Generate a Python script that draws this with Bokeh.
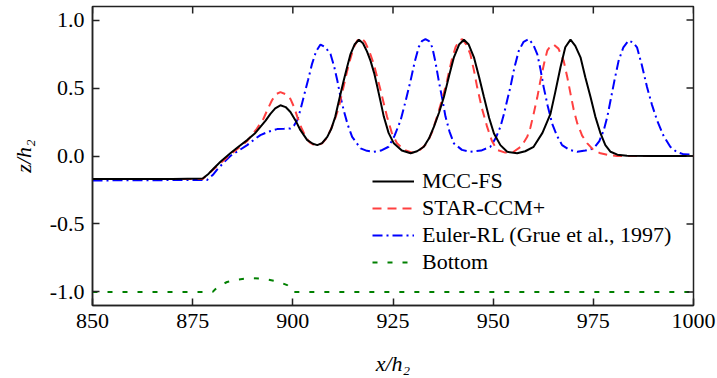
from bokeh.plotting import figure
from bokeh.models import (Range1d, FixedTicker, PrintfTickFormatter, Legend, LegendItem)
from bokeh.embed import file_html
from bokeh.resources import INLINE

# ---------------- data ----------------
mcc_x = [850, 870, 877.5, 879, 880.3, 882, 884.4, 886.5, 888.6, 890.5, 891.9, 893.2, 894.4, 895.6,
         896.9, 898.2, 899.4, 900.7, 901.9, 903.6, 905, 906.1, 907.3, 908.6, 909.6, 910.6, 911.6,
         912.7, 913.6, 914.4, 915.4, 916.5, 917.5, 918.5, 919.4, 920.3, 921.1, 921.9, 922.7, 923.9,
         925.2, 927.2, 929.4, 931, 932.7, 934, 935.2, 936.5, 937.7, 939, 940.2, 941.5, 942.7, 943.9,
         945.2, 946.5, 947.7, 949, 950.2, 951.8, 953.5, 956, 958, 960.1, 962.3, 964.3, 965.5, 966.8,
         968, 969.3, 970.5, 971.8, 973, 974.3, 975.5, 976.8, 978, 979.3, 981, 983.4, 990, 1000]
mcc_z = [-0.17, -0.17, -0.165, -0.13, -0.09, -0.04, 0.02, 0.07, 0.117, 0.165, 0.214, 0.26, 0.31, 0.35,
         0.373, 0.36, 0.324, 0.26, 0.19, 0.117, 0.09, 0.08, 0.095, 0.141, 0.2, 0.29, 0.42,
         0.556, 0.66, 0.75, 0.82, 0.855, 0.83, 0.77, 0.70, 0.61, 0.507, 0.40, 0.29, 0.17,
         0.093, 0.04, 0.02, 0.035, 0.068, 0.13, 0.214, 0.32, 0.434, 0.59, 0.726, 0.82, 0.855, 0.82,
         0.726, 0.58, 0.434, 0.28, 0.166, 0.08, 0.031, 0.02, 0.035, 0.068, 0.17, 0.31, 0.47, 0.653,
         0.80, 0.856, 0.81, 0.726, 0.58, 0.434, 0.29, 0.166, 0.08, 0.031, 0.01, 0.002, 0.0, 0.0]

star_x = [850, 877.5, 879, 880.5, 884.4, 888.6, 891, 892.7, 893.8, 894.8, 895.8, 896.9, 898.2, 899.4,
          900.3, 901.1, 902.1, 903.2, 904.2, 905.3, 906.3, 907.3, 908.4, 909.4, 910.5, 911.5, 912.5,
          913.6, 914.4, 915.2, 916.1, 917.0, 918.0, 919.1, 920.2, 921.9, 923.5, 924.7, 926.0, 927.8,
          929.8, 931.7, 933.5, 934.8, 936.0, 937.3, 938.5, 939.6, 940.6, 941.5, 942.3, 943.3, 944.3,
          945.2, 946.0, 947.2, 948.5, 949.7, 951.0, 953, 955.1, 957, 958.5, 959.3, 960.1, 961, 961.8,
          962.7, 963.5, 964.3, 965.1, 966.3, 967.6, 968.5, 969.3, 970.1, 971.0, 972.2, 973.5, 975,
          976.8, 978.8, 980.9, 1000]
star_z = [-0.17, -0.17, -0.13, -0.09, 0.01, 0.11, 0.2, 0.276, 0.35, 0.41, 0.455, 0.47, 0.455, 0.42,
          0.36, 0.29, 0.21, 0.14, 0.10, 0.08, 0.08, 0.093, 0.13, 0.19, 0.27, 0.36, 0.49,
          0.63, 0.72, 0.80, 0.85, 0.87, 0.84, 0.77, 0.678, 0.483, 0.29, 0.17, 0.093, 0.045,
          0.025, 0.045, 0.093, 0.18, 0.29, 0.42, 0.556, 0.70, 0.80, 0.85, 0.86, 0.82, 0.75,
          0.63, 0.507, 0.35, 0.214, 0.11, 0.044, 0.025, 0.031, 0.07, 0.141, 0.21, 0.31, 0.43, 0.556,
          0.68, 0.775, 0.81, 0.82, 0.79, 0.70, 0.58, 0.459, 0.34, 0.24, 0.15, 0.093, 0.045,
          0.02, 0.007, 0.0, 0.0]

euler_x = [850, 878.6, 880, 881.1, 882.7, 884.4, 886.5, 888.6, 890.3, 891.9, 894, 896.1, 897.8, 899.4,
           900.3, 901.1, 901.9, 902.7, 903.8, 904.8, 905.8, 906.9, 908.1, 909.4, 910.3, 911.1, 911.9,
           912.7, 913.7, 914.8, 916.9, 918.5, 920.2, 922, 923.9, 925.4, 926.9, 928.2, 929.4, 930.4,
           931.4, 932.2, 933.1, 934, 934.8, 935.6, 936.4, 937.3, 938.1, 939.1, 940.2, 942.2, 944.3,
           947, 949.3, 950.6, 951.8, 952.7, 953.5, 954.3, 955.3, 956.4, 957.6, 958.9, 960.0, 961.0,
           961.8, 962.6, 963.6, 964.7, 965.9, 967.2, 969, 971.0, 973, 975.1, 976.5, 977.6, 978.5,
           979.3, 980.3, 981.3, 982.5, 983.8, 984.9, 985.9, 987.1, 988.4, 989.6, 990.9, 992.5, 994.2,
           995.8, 997.6, 1000]
euler_z = [-0.18, -0.176, -0.14, -0.10, -0.05, 0.0, 0.04, 0.08, 0.12, 0.154, 0.18, 0.198, 0.20, 0.203,
           0.225, 0.263, 0.34, 0.434, 0.56, 0.678, 0.77, 0.82, 0.80, 0.75, 0.66, 0.556, 0.434,
           0.336, 0.23, 0.141, 0.056, 0.038, 0.031, 0.04, 0.068, 0.15, 0.263, 0.41, 0.556, 0.69,
           0.80, 0.845, 0.86, 0.845, 0.80, 0.69, 0.556, 0.42, 0.29, 0.18, 0.093, 0.045, 0.031,
           0.04, 0.068, 0.13, 0.214, 0.31, 0.41, 0.507, 0.65, 0.775, 0.84, 0.86, 0.82, 0.75,
           0.64, 0.507, 0.37, 0.24, 0.15, 0.08, 0.045, 0.031, 0.04, 0.056, 0.11, 0.19, 0.29,
           0.41, 0.56, 0.70, 0.80, 0.85, 0.835, 0.80, 0.67, 0.507, 0.38, 0.263, 0.15, 0.068,
           0.03, 0.012, 0.01]

bottom_x = [850, 880, 881, 882, 883.6, 886, 888.2, 890, 891.9, 894, 895.7, 897.3, 898.6, 899.3, 899.8, 1000]
bottom_z = [-1.0, -1.0, -0.97, -0.95, -0.927, -0.91, -0.902, -0.90, -0.902, -0.91, -0.92, -0.935, -0.95,
            -0.97, -1.0, -1.0]

x_ticks = [850, 875, 900, 925, 950, 975, 1000]
y_ticks = [-1.0, -0.5, 0.0, 0.5, 1.0]
labels = ["MCC-FS", "STAR-CCM+", "Euler-RL (Grue et al., 1997)", "Bottom"]
X_MIN, X_MAX = 850, 1000
Y_MIN, Y_MAX = -1.1, 1.1

# ---------------- figure ----------------
FONT = "Liberation Serif"
p = figure(width=717, height=378, output_backend="svg", toolbar_location=None,
           x_range=Range1d(X_MIN, X_MAX), y_range=Range1d(Y_MIN, Y_MAX),
           min_border_left=92, min_border_right=24, min_border_top=6, min_border_bottom=71)
p.background_fill_color = "white"
p.border_fill_color = "white"
p.grid.visible = False
p.outline_line_color = "#222222"
p.outline_line_width = 1.5

r_bot = p.line(bottom_x, bottom_z, line_color="#008000", line_width=2, line_dash="5 10")
r_eu = p.line(euler_x, euler_z, line_color="#0000ff", line_width=2, line_dash="10 4 2 4")
r_st = p.line(star_x, star_z, line_color="#ff4040", line_width=2, line_dash="9 6")
r_mc = p.line(mcc_x, mcc_z, line_color="black", line_width=2)

# mirrored inward ticks on the top and right edges
p.ray(x=x_ticks, y=[Y_MAX] * len(x_ticks), length=7, length_units="screen",
      angle=-90, angle_units="deg", line_color="#222222", line_width=1.5)
p.ray(x=[X_MAX] * len(y_ticks), y=y_ticks, length=7, length_units="screen",
      angle=180, angle_units="deg", line_color="#222222", line_width=1.5)


def style_axis(ax, ticks, fmt):
    ax.ticker = FixedTicker(ticks=ticks)
    ax.formatter = PrintfTickFormatter(format=fmt)
    ax.major_tick_in = 7
    ax.major_tick_out = 0
    ax.minor_tick_line_color = None
    ax.major_tick_line_color = "#222222"
    ax.major_tick_line_width = 1.5
    ax.axis_line_color = "#222222"
    ax.axis_line_width = 1.5
    ax.major_label_text_font = FONT
    ax.major_label_text_color = "black"
    ax.major_label_text_font_size = "22px"
    ax.axis_label_text_font = FONT
    ax.axis_label_text_font_size = "22px"
    ax.axis_label_text_font_style = "italic"
    ax.axis_label_text_color = "black"


style_axis(p.xaxis[0], x_ticks, "%d")
style_axis(p.yaxis[0], y_ticks, "%.1f")
p.xaxis[0].major_label_standoff = 8
p.yaxis[0].major_label_standoff = 8
p.xaxis[0].axis_label = "x/h₂"
p.yaxis[0].axis_label = "z/h₂"
p.xaxis[0].axis_label_standoff = 20
p.yaxis[0].axis_label_standoff = 11

legend = Legend(items=[LegendItem(label=labels[0], renderers=[r_mc]),
                       LegendItem(label=labels[1], renderers=[r_st]),
                       LegendItem(label=labels[2], renderers=[r_eu]),
                       LegendItem(label=labels[3], renderers=[r_bot])],
                location=(280, 30))
legend.background_fill_alpha = 0
legend.border_line_color = None
legend.padding = 0
legend.margin = 0
legend.glyph_width = 42
legend.glyph_height = 22
legend.label_height = 22
legend.label_standoff = 8
legend.spacing = 1
legend.label_text_font = FONT
legend.label_text_font_size = "22px"
legend.label_text_color = "black"
p.add_layout(legend, "center")

open("out.html", "w").write(file_html(p, INLINE))
